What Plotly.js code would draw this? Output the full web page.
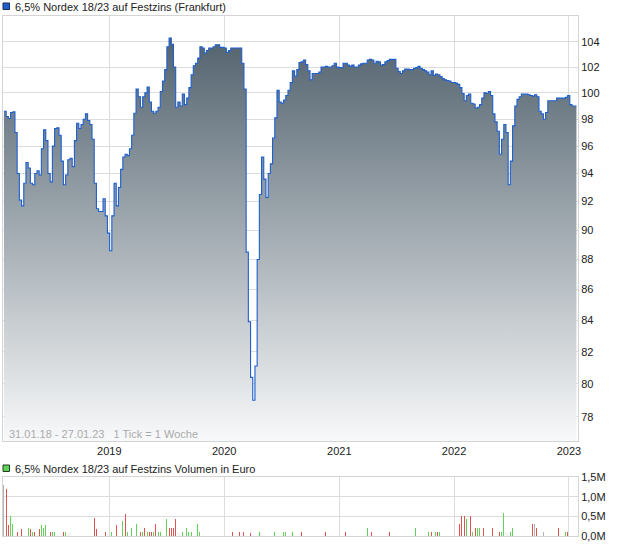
<!DOCTYPE html>
<html>
<head>
<meta charset="utf-8">
<script src="https://cdn.plot.ly/plotly-3.0.1.min.js"></script>
<style>
  html, body { margin: 0; padding: 0; background: #ffffff; }
  #chart { width: 620px; height: 546px; }
</style>
</head>
<body>
<div id="chart"></div>
<script>
// ---- data (weekly ticks, first tick 31.01.2018) ----
const firstWeek = '2018-01-31';
const priceWeekly = [
  98.6, 98.2, 98.05, 98.5, 98.55, 97.0, 94.0, 92.1, 91.7, 93.3,
  94.8, 94.4, 93.3, 93.2, 94.0, 94.2, 93.9, 95.8, 97.2, 96.4,
  94.0, 93.4, 96.0, 97.3, 97.35, 96.8, 94.9, 93.2, 93.9, 95.0,
  95.1, 94.5, 96.4, 97.7, 97.3, 97.6, 98.0, 98.4, 97.9, 97.6,
  96.5, 93.3, 91.5, 91.3, 91.3, 92.2, 91.0, 89.8, 88.6, 91.0,
  93.3, 91.7, 93.0, 94.3, 95.2, 95.4, 95.3, 95.8, 96.8, 98.45,
  100.3, 99.7, 98.9, 99.7, 100.0, 100.45, 99.3, 98.6, 98.45, 98.6,
  98.9, 100.1, 100.9, 101.8, 103.6, 104.3, 103.8, 102.0, 98.9, 99.3,
  99.0, 99.9, 99.1, 99.6, 100.4, 101.4, 102.1, 102.3, 102.7, 103.6,
  103.5, 103.1, 103.3, 103.5, 103.5, 103.6, 103.75, 103.75, 103.55, 103.55,
  103.5, 103.15, 103.3, 103.5, 103.5, 103.5, 103.5, 103.5, 102.3, 100.3,
  88.5, 83.9, 80.4, 79.0, 81.1, 88.0, 92.5, 95.2, 93.6, 92.3,
  94.0, 94.7, 96.6, 98.1, 100.2, 99.3, 99.2, 99.45, 99.8, 100.2,
  100.8, 101.7, 101.3, 101.8, 102.35, 102.4, 102.55, 102.2, 101.7, 101.0,
  101.5, 101.5, 101.5, 101.6, 102.0, 102.0, 102.05, 102.0, 102.0, 102.1,
  102.3, 102.0, 101.95, 101.95, 102.3, 102.3, 102.15, 102.05, 102.15, 102.0,
  102.0, 102.15, 102.25, 102.3, 102.3, 102.55, 102.6, 102.55, 102.3, 102.45,
  102.4, 102.15, 102.2, 102.4, 102.5, 102.6, 102.6, 102.6, 101.9, 101.65,
  101.5, 101.7, 101.85, 101.85, 101.8, 101.8, 101.9, 101.95, 102.05, 101.9,
  101.8, 101.7, 101.6, 101.4, 101.7, 101.35, 101.45, 101.4, 101.25, 101.1,
  101.0, 100.95, 100.9, 100.8, 100.8, 100.75, 100.65, 100.4, 99.95, 99.4,
  99.8, 99.9, 99.2, 99.15, 98.85, 98.9, 99.1, 99.6, 100.0, 99.95,
  100.1, 99.8, 98.4, 97.8, 97.1, 95.4, 96.5, 97.6, 97.0, 93.2,
  94.9, 97.5, 99.0, 99.5, 99.7, 99.9, 99.9, 99.9, 99.85, 99.8,
  99.75, 99.85, 99.7, 98.6, 98.4, 98.0, 98.5, 99.4, 99.4, 99.4,
  99.4, 99.6, 99.6, 99.6, 99.6, 99.65, 99.8, 99.1, 99.0, 99.0, 99.0
];

// volume: week index (from firstWeek), volume in million EUR, direction
const volWeek = [0,1,2,3,4,6,8,10,11,12,13,14,15,16,17,18,19,20,21,22,23,25,27,28,
  41,42,46,49,50,51,54,55,56,58,60,62,63,64,65,66,67,68,69,70,71,74,75,76,77,78,
  81,83,84,85,88,89,104,107,109,112,116,123,124,127,128,129,131,135,144,146,155,
  165,167,175,187,193,194,196,197,198,207,208,209,210,212,213,214,215,216,218,
  222,223,225,226,227,228,230,231,240,241,242,245,248,252,253,255,256];
const volMillion = [1.30,1.20,0.29,0.52,0.31,0.11,0.18,0.11,0.20,0.18,0.11,0.11,0.49,0.18,0.29,0.20,0.29,0.29,0.11,0.11,0.11,0.11,0.11,0.11,
  0.47,0.18,0.11,0.11,0.29,0.29,0.39,0.57,0.11,0.20,0.31,0.11,0.11,0.20,0.11,0.11,0.11,0.11,0.31,0.11,0.11,0.42,0.20,0.20,0.20,0.42,
  0.11,0.20,0.11,0.11,0.31,0.11,0.11,0.11,0.11,0.08,0.11,0.11,0.11,0.11,0.11,0.20,0.11,0.11,0.11,0.11,0.11,
  0.20,0.11,0.11,0.20,0.11,0.11,0.11,0.11,0.11,0.31,0.52,0.52,0.42,0.52,0.11,0.20,0.20,0.20,0.20,
  0.20,0.20,0.11,0.11,0.59,0.20,0.11,0.20,0.31,0.31,0.20,0.11,0.11,0.20,0.42,0.11,0.11];
const volDir = ['flat','down','down','up','up','down','down','up','up','down','up','down','up','down','up','up','up','down','down','up','up','up','down','up',
  'down','down','down','up','up','down','up','down','up','up','up','down','up','down','up','down','down','up','down','up','up','up','down','down','down','down',
  'up','up','up','up','up','up','down','down','down','down','up','up','up','up','up','up','up','down','up','down','down',
  'up','down','down','up','up','down','up','down','up','down','down','down','up','down','up','down','up','up','down',
  'down','down','down','up','up','down','up','up','down','flat','down','flat','up','down','flat','up','down'];

const yearTicks = ['2019-01-01','2020-01-01','2021-01-01','2022-01-01','2023-01-01'];
const yearLabels = ['2019','2020','2021','2022','2023'];
const priceTicks = [78,80,82,84,86,88,90,92,94,96,98,100,102,104];
const volTicks = [0, 500000, 1000000, 1500000];
const volTickLabels = ['0,0M','0,5M','1,0M','1,5M'];

// ---- helpers ----
const DAY = 86400000;
const t0 = Date.parse(firstWeek + 'T00:00:00Z');
const weekDate = i => new Date(t0 + i * 7 * DAY).toISOString().slice(0, 10);
const priceDates = priceWeekly.map((_, i) => weekDate(i));
const dirColor = { up: '#5fd35a', down: '#e05252', flat: '#b4b4b4' };

const FONT = 'Liberation Sans, Arial, sans-serif';
const W = 620, H = 546, ML = 3, MR = 42, MT = 16, MB = 10;
const plotH = H - MT - MB, plotW = W - ML - MR;
const py = p => (H - MB - p) / plotH;   // pixel y -> paper
const px = p => (p - ML) / plotW;       // pixel x -> paper

const priceTrace = {
  type: 'scatter', mode: 'lines',
  x: priceDates, y: priceWeekly,
  xaxis: 'x', yaxis: 'y',
  line: { color: '#1e5fcf', width: 1.1, shape: 'hv' },
  fill: 'tozeroy',
  fillgradient: {
    type: 'vertical',
    start: 76.57, stop: 106.07,
    colorscale: [[0, '#f8f9fa'], [1, '#4a5b67']]
  },
  hoverinfo: 'skip'
};

const volTrace = {
  type: 'bar',
  x: volWeek.map(weekDate),
  y: volMillion.map(v => v * 1e6),
  xaxis: 'x2', yaxis: 'y2',
  width: 2.9 * DAY,
  marker: { color: volDir.map(d => dirColor[d]), line: { width: 0 } },
  hoverinfo: 'skip'
};

const gridC = '#dcdcdc', lineC = '#d4d4d4';
const tickFont = { family: FONT, size: 11, color: '#222' };

const layout = {
  width: W, height: H,
  margin: { l: ML, r: MR, t: MT, b: MB },
  paper_bgcolor: '#ffffff', plot_bgcolor: '#ffffff',
  showlegend: false,
  bargap: 0,
  xaxis: {
    type: 'date', anchor: 'y',
    range: ['2018-01-28', '2023-01-30'],
    tickvals: yearTicks, ticktext: yearLabels,
    showgrid: true, gridcolor: gridC, gridwidth: 1,
    showline: true, mirror: true, linecolor: lineC, linewidth: 1,
    ticks: '', tickfont: tickFont, zeroline: false, fixedrange: true
  },
  yaxis: {
    type: 'log', domain: [py(441), 1],
    range: [Math.log10(76.57), Math.log10(106.07)],
    side: 'right',
    tickvals: priceTicks, ticktext: priceTicks.map(String),
    showgrid: true, gridcolor: gridC, gridwidth: 1,
    showline: true, mirror: true, linecolor: lineC, linewidth: 1,
    ticks: '', tickfont: tickFont, zeroline: false, fixedrange: true
  },
  xaxis2: {
    type: 'date', anchor: 'y2', matches: 'x',
    tickvals: yearTicks, showticklabels: false,
    showgrid: true, gridcolor: gridC, gridwidth: 1,
    showline: true, mirror: true, linecolor: lineC, linewidth: 1,
    ticks: '', zeroline: false, fixedrange: true
  },
  yaxis2: {
    domain: [0, py(477)],
    range: [0, 1500000],
    side: 'right',
    tickvals: volTicks, ticktext: volTickLabels,
    showgrid: true, gridcolor: gridC, gridwidth: 1,
    showline: true, mirror: true, linecolor: lineC, linewidth: 1,
    ticks: '', tickfont: tickFont, zeroline: false, fixedrange: true
  },
  shapes: [
    { type: 'rect', xref: 'paper', yref: 'paper',
      x0: px(3), x1: px(9.5), y0: py(9.5), y1: py(3),
      fillcolor: '#1e5fcf', line: { color: '#1a2a55', width: 1 } },
    { type: 'rect', xref: 'paper', yref: 'paper',
      x0: px(3), x1: px(9.5), y0: py(471.5), y1: py(465),
      fillcolor: '#5fd35a', line: { color: '#1f3f1f', width: 1 } }
  ],
  annotations: [
    { xref: 'paper', yref: 'paper', x: px(12.5), y: py(6.5),
      xanchor: 'left', yanchor: 'middle', showarrow: false,
      text: '6,5% Nordex 18/23 auf Festzins (Frankfurt)',
      font: { family: FONT, size: 11, color: '#222' } },
    { xref: 'paper', yref: 'paper', x: px(12.5), y: py(468.5),
      xanchor: 'left', yanchor: 'middle', showarrow: false,
      text: '6,5% Nordex 18/23 auf Festzins Volumen in Euro',
      font: { family: FONT, size: 11, color: '#222' } },
    { xref: 'paper', yref: 'paper', x: px(7), y: py(434),
      xanchor: 'left', yanchor: 'middle', showarrow: false,
      text: '31.01.18 - 27.01.23&nbsp;&nbsp;&nbsp;1 Tick = 1 Woche',
      font: { family: FONT, size: 11, color: '#ababab' } }
  ]
};

Plotly.newPlot('chart', [priceTrace, volTrace], layout, { displayModeBar: false, staticPlot: true });
</script>
</body>
</html>
